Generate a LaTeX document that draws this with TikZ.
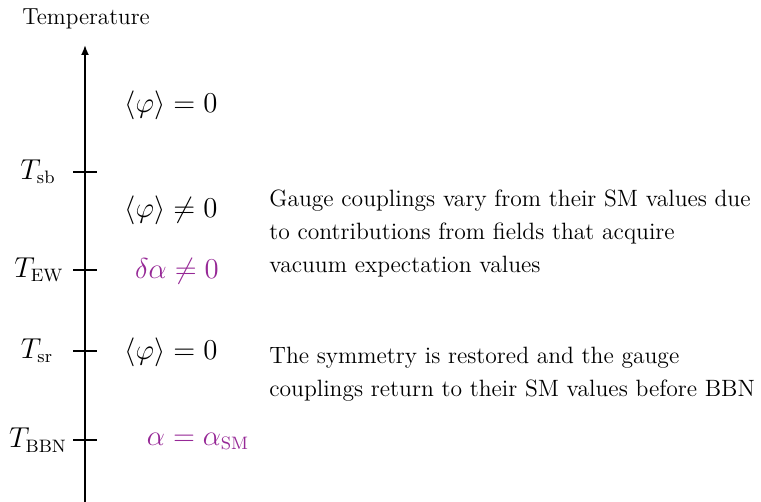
\documentclass[tikz,border=0pt]{standalone}
\usepackage{amsmath}
\usetikzlibrary{arrows.meta}
\definecolor{vpurple}{RGB}{150,40,150}
\begin{document}
\begin{tikzpicture}[x=0.5pt,y=-0.5pt,
  axisline/.style={line width=0.9pt,-{Latex[length=5pt,width=4pt]}},
  tickline/.style={line width=0.9pt},
  tlabel/.style={inner sep=0pt,font=\fontsize{13.5}{16}\selectfont},
  mlabel/.style={inner sep=0pt,font=\fontsize{13.5}{16}\selectfont},
  plabel/.style={mlabel,text=vpurple},
  note/.style={inner sep=0pt,align=left,anchor=north west,font=\fontsize{11.8}{16.5}\selectfont},
  title/.style={inner sep=0pt,font=\fontsize{11.6}{14}\selectfont}]
\useasboundingbox (0,0) rectangle (761,502);
\coordinate (bot) at (85,502);
\coordinate (top) at (85,45);
\draw[axisline] (bot) -- (top);
\node[title] (temp) at (86,19) {Temperature};
% ticks
\foreach \n/\y in {sb/172,ew/270,sr/351,bbn/440}{
  \coordinate (l\n) at (73,\y);
  \coordinate (r\n) at (97,\y);
  \draw[tickline] (l\n) -- (r\n);
}
\node[tlabel] (Tsb) at (38,172) {$T_{\mathrm{sb}}$};
\node[tlabel] (Tew) at (39,270) {$T_{\mathrm{EW}}$};
\node[tlabel] (Tsr) at (37,351) {$T_{\mathrm{sr}}$};
\node[tlabel] (Tbbn) at (38,440) {$T_{\mathrm{BBN}}$};
% phase labels
\node[mlabel] (p1) at (171,105) {$\langle\varphi\rangle = 0$};
\node[mlabel] (p2) at (171,210) {$\langle\varphi\rangle \neq 0$};
\node[plabel] (p3) at (177,271) {$\delta\alpha \neq 0$};
\node[mlabel] (p4) at (171,352) {$\langle\varphi\rangle = 0$};
\node[plabel] (p5) at (198,441) {$\alpha = \alpha_{\mathrm{SM}}$};
% notes
\node[note] (n1) at (269,189) {Gauge couplings vary from their SM values due\\to contributions from fields that acquire\\vacuum expectation values};
\node[note] (n2) at (269,347) {The symmetry is restored and the gauge\\couplings return to their SM values before BBN};
\end{tikzpicture}
\end{document}
